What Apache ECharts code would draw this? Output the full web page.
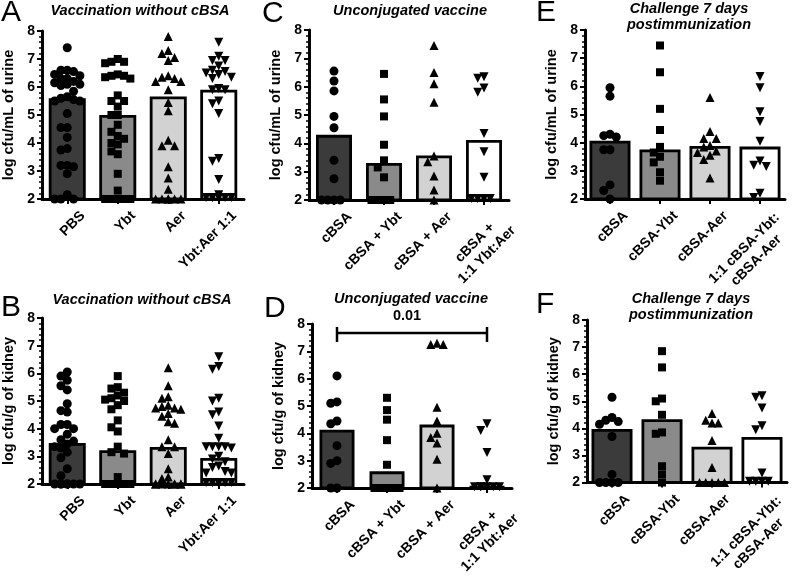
<!DOCTYPE html>
<html><head><meta charset="utf-8">
<script src="https://cdn.jsdelivr.net/npm/echarts@6/dist/echarts.min.js"></script>
<style>html,body{margin:0;padding:0;background:#fff}#c{width:805px;height:585px}</style>
</head><body><div id="c"></div>
<script>
const FONT = '"Liberation Sans", Arial, Helvetica, sans-serif';

// ---- categories ----
const catsAB = ['PBS', 'Ybt', 'Aer', 'Ybt:Aer 1:1'];
const catsCD = ['cBSA', 'cBSA + Ybt', 'cBSA + Aer', 'cBSA +\n1:1 Ybt:Aer'];
const catsEF = ['cBSA', 'cBSA-Ybt', 'cBSA-Aer', '1:1 cBSA-Ybt:\ncBSA-Aer'];

// ---- y axis ----
const yMin = 2, yMax = 8, yStep = 1;

// ---- Panel A (urine, vaccination without cBSA) ----
const barA = [5.6, 5.0, 5.66, 5.9];
const ptsA_1 = [7.4, 6.6, 6.6, 6.55, 6.45, 6.4, 6.3, 6.3, 6.2, 6.15, 6.1, 6.1, 6.05, 5.85, 5.65, 5.6, 5.55, 5.5, 5.5, 5.05, 4.55, 4.55, 4.2, 3.8, 3.75, 3.2, 3.2, 3.15, 2.9, 2.15, 2, 2, 2];
const ptsA_2 = [7.0, 6.9, 6.9, 6.85, 6.45, 6.4, 6.4, 6.35, 6.3, 5.7, 5.5, 5.5, 5.3, 5.0, 5.0, 4.65, 4.4, 4.25, 4.15, 4.0, 3.95, 3.7, 3.6, 2.9, 2.3, 2, 2, 2, 2, 2, 2];
const ptsA_3 = [7.8, 7.3, 7.2, 7.05, 6.95, 6.4, 6.35, 6.3, 6.2, 6.2, 5.9, 5.45, 5.15, 4.1, 3.9, 3.9, 3.15, 2.75, 2.35, 2, 2, 2, 2, 2, 2];
const ptsA_4 = [7.6, 7.1, 6.95, 6.95, 6.75, 6.6, 6.55, 6.5, 6.45, 6.35, 6.3, 5.95, 5.9, 5.9, 5.5, 5.4, 5.05, 3.45, 3.35, 2.7, 2.15, 2.05, 2.05, 2.05, 2.05, 2.05, 2.05];

// ---- Panel B (kidney, vaccination without cBSA) ----
const barB = [3.48, 3.22, 3.34, 2.94];
const ptsB_1 = [6.05, 5.9, 5.75, 5.55, 5.4, 4.9, 4.65, 4.6, 4.15, 4.15, 4.0, 4.0, 3.8, 3.6, 3.55, 3.45, 3.35, 3.3, 3.15, 2.95, 2.55, 2.3, 2, 2, 2, 2, 2, 2, 2];
const ptsB_2 = [5.9, 5.5, 5.45, 5.3, 5.2, 5.1, 5.05, 5.0, 4.85, 4.7, 4.3, 4.05, 3.9, 3.35, 3.15, 3.1, 2.25, 2, 2, 2, 2, 2, 2, 2];
const ptsB_3 = [6.2, 5.55, 5.15, 5.1, 4.85, 4.8, 4.75, 4.75, 4.7, 4.55, 4.45, 4.25, 4.2, 3.6, 3.35, 3.35, 3.1, 2.55, 2.25, 2.2, 2, 2, 2, 2, 2, 2, 2, 2];
const ptsB_4 = [6.6, 6.25, 6.15, 5.1, 5.0, 4.6, 4.5, 4.1, 3.65, 3.35, 3.35, 3.35, 3.35, 3.3, 3.0, 2.9, 2.8, 2.65, 2.6, 2.45, 2.4, 2.4, 2.05, 2.05, 2.05, 2.05, 2.05, 2.05, 2.05];

// ---- Panel C (urine, unconjugated vaccine) ----
const barC = [4.3, 3.31, 3.57, 4.12];
const ptsC_1 = [6.55, 6.2, 5.85, 4.95, 4.55, 3.4, 2.75, 2, 2, 2, 2];
const ptsC_2 = [6.45, 5.55, 4.95, 3.95, 3.4, 3.15, 2.8, 2, 2, 2, 2];
const ptsC_3 = [7.45, 6.5, 6.1, 5.45, 3.55, 3.35, 2.85, 2.35, 2];
const ptsC_4 = [6.35, 6.3, 5.95, 5.8, 4.35, 3.7, 2.8, 2.05, 2.05, 2.05, 2.05];

// ---- Panel D (kidney, unconjugated vaccine) ----
const barD = [4.13, 2.61, 4.32, 2.08];
const ptsD_1 = [6.1, 5.15, 5.1, 4.45, 4.35, 3.55, 3.0, 2.9, 2, 2];
const ptsD_2 = [5.3, 4.85, 4.5, 3.75, 2.85, 2, 2, 2, 2, 2];
const ptsD_3 = [7.3, 7.25, 7.25, 4.95, 4.45, 4.0, 3.85, 3.65, 3.05, 2.0];
const ptsD_4 = [4.35, 4.1, 3.3, 2.3, 2.05, 2.05, 2.05, 2.05, 2.05, 2.05];
const sigD = { from: 0, to: 3, y: 7.67, label: '0.01' };

// ---- Panel E (urine, challenge 7 days) ----
const barE = [4.07, 3.76, 3.88, 3.86];
const ptsE_1 = [5.95, 5.65, 4.3, 4.25, 4.2, 3.75, 3.75, 2.5, 2.3, 2.0];
const ptsE_2 = [7.45, 6.5, 5.2, 4.45, 3.85, 3.65, 3.5, 3.3, 2.95, 2.65];
const ptsE_3 = [5.6, 4.4, 4.15, 4.15, 3.9, 3.85, 3.7, 3.65, 3.55, 3.4, 2.75];
const ptsE_4 = [6.35, 5.95, 5.1, 4.75, 4.05, 3.35, 3.2, 3.15, 2.2, 2.05];

// ---- Panel F (kidney, challenge 7 days) ----
const barF = [3.98, 4.34, 3.32, 3.68];
const ptsF_1 = [5.15, 4.4, 4.3, 4.25, 4.15, 3.7, 2.3, 2, 2, 2, 2];
const ptsF_2 = [6.85, 6.25, 5.1, 5.0, 4.5, 3.85, 3.8, 2.6, 2.3, 2.0];
const ptsF_3 = [4.55, 4.3, 4.2, 4.2, 3.55, 2.55, 2, 2, 2, 2, 2];
const ptsF_4 = [5.2, 5.15, 4.75, 4.1, 3.95, 2.35, 2.05, 2.05, 2.05, 2.05];

// ---- styles ----
const fills = ['#3b3b3b', '#8a8a8a', '#d2d2d2', '#ffffff'];
const symbols = ['circle', 'rect', 'triangle', 'triangle'];
const symRot = [0, 0, 0, 180];
const symSize = [9, 8, 9, 9];
const urine = 'log cfu/mL of urine', kidney = 'log cfu/g of kidney';

const panels = [
  { letter: 'A', cats: catsAB, bars: barA, pts: [ptsA_1, ptsA_2, ptsA_3, ptsA_4], yName: urine,
    title: 'Vaccination without cBSA', tx: 140, ty: 11, lx: 1, ly: 14,
    grid: { left: 42, top: 31, width: 202, height: 168 }, bw: 37 },
  { letter: 'C', cats: catsCD, bars: barC, pts: [ptsC_1, ptsC_2, ptsC_3, ptsC_4], yName: urine,
    title: 'Unconjugated vaccine', tx: 410, ty: 11, lx: 262, ly: 15,
    grid: { left: 309, top: 30, width: 200, height: 170 }, bw: 36 },
  { letter: 'E', cats: catsEF, bars: barE, pts: [ptsE_1, ptsE_2, ptsE_3, ptsE_4], yName: urine,
    title: 'Challenge 7 days\npostimmunization', tx: 689, ty: 17, lx: 536, ly: 14,
    grid: { left: 585, top: 30, width: 200, height: 169 }, bw: 41 },
  { letter: 'B', cats: catsAB, bars: barB, pts: [ptsB_1, ptsB_2, ptsB_3, ptsB_4], yName: kidney,
    title: 'Vaccination without cBSA', tx: 142, ty: 300, lx: 1, ly: 309,
    grid: { left: 42, top: 318, width: 202, height: 166 }, bw: 37 },
  { letter: 'D', cats: catsCD, bars: barD, pts: [ptsD_1, ptsD_2, ptsD_3, ptsD_4], yName: kidney,
    title: 'Unconjugated vaccine', tx: 411, ty: 299, lx: 264, ly: 310, sig: sigD,
    grid: { left: 312, top: 324, width: 200, height: 164 }, bw: 35 },
  { letter: 'F', cats: catsEF, bars: barF, pts: [ptsF_1, ptsF_2, ptsF_3, ptsF_4], yName: kidney,
    title: 'Challenge 7 days\npostimmunization', tx: 691, ty: 307, lx: 536, ly: 306,
    grid: { left: 587, top: 320, width: 200, height: 167 }, bw: 41 }
];

// beeswarm-style horizontal spreading of points (computed, not typed)
function swarm(vals, step, minDy) {
  const placed = [];
  const cands = [0, -step, step, -2 * step, 2 * step, -0.5 * step, 0.5 * step, -1.5 * step, 1.5 * step];
  vals.forEach(v => {
    let best = 0, bestN = Infinity;
    for (const c of cands) {
      let n = 0;
      for (const p of placed) if (Math.abs(p[0] - c) < step * 0.98 && Math.abs(p[1] - v) < minDy) n++;
      if (n === 0) { best = c; bestN = 0; break; }
      if (n < bestN) { bestN = n; best = c; }
    }
    placed.push([best, v]);
  });
  return placed;
}

// rotated labels: blank lead lines push the text below-right of its tick, lines centred
function catLabel(v) {
  const lines = v.split('\n');
  const out = [];
  for (let i = 0; i <= lines.length; i++) out.push('{e| }');
  lines.forEach(s => out.push('{c|' + s + '}'));
  return out.join('\n');
}

const LBL = { fontFamily: FONT, fontWeight: 'bold', fontSize: 14, color: '#000', lineHeight: 17 };

const grids = [], xAxes = [], yAxes = [], series = [], graphics = [];
panels.forEach((p, i) => {
  grids.push(Object.assign({ containLabel: false }, p.grid));
  xAxes.push({
    type: 'category', gridIndex: i, data: p.cats, z: 3,
    axisLine: { onZero: false, lineStyle: { color: '#000', width: 3 } },
    axisTick: { show: true, alignWithLabel: true, length: 5, lineStyle: { color: '#000', width: 2 } },
    axisLabel: Object.assign({}, LBL, {
      interval: 0, rotate: 45, margin: -1, hideOverlap: false,
      formatter: catLabel,
      rich: { c: Object.assign({ align: 'center' }, LBL), e: Object.assign({}, LBL, { lineHeight: 22 }) }
    })
  });
  xAxes.push({ type: 'value', gridIndex: i, min: -0.5, max: 3.5, show: false, axisLine: { onZero: false } });
  yAxes.push({
    type: 'value', gridIndex: i, min: yMin, max: yMax, interval: yStep, z: 3,
    name: p.yName, nameLocation: 'middle', nameGap: 26,
    nameTextStyle: { color: '#000', fontFamily: FONT, fontWeight: 'bold', fontSize: 14.5 },
    axisLine: { show: true, onZero: false, lineStyle: { color: '#000', width: 3 } },
    axisTick: { show: true, length: 5, lineStyle: { color: '#000', width: 2 } },
    minorTick: { show: true, splitNumber: 5, length: 3, lineStyle: { color: '#000', width: 1.5 } },
    splitLine: { show: false },
    axisLabel: { color: '#000', fontFamily: FONT, fontWeight: 'bold', fontSize: 14, margin: 7 }
  });
  series.push({
    type: 'bar', xAxisIndex: 2 * i, yAxisIndex: i, barWidth: p.bw, z: 2,
    data: p.bars.map((v, j) => ({ value: v, itemStyle: { color: fills[j] } })),
    itemStyle: { borderColor: '#000', borderWidth: 2.8 },
    silent: true, animation: false
  });
  p.pts.forEach((vals, g) => {
    const sw = swarm(vals, 0.125, 0.28);
    series.push({
      type: 'scatter', xAxisIndex: 2 * i + 1, yAxisIndex: i, z: 5,
      symbol: symbols[g], symbolRotate: symRot[g], symbolSize: symSize[g],
      itemStyle: { color: '#000', opacity: 1 },
      data: sw.map(d => [g + d[0], d[1]]),
      clip: false, silent: true, animation: false
    });
  });
  if (p.sig) {
    series.push({
      type: 'custom', xAxisIndex: 2 * i, yAxisIndex: i, z: 6, clip: false, silent: true, animation: false,
      data: [[p.sig.from, p.sig.to, p.sig.y]],
      renderItem: (params, api) => {
        const a = api.coord([api.value(0), api.value(2)]);
        const b = api.coord([api.value(1), api.value(2)]);
        const ls = { stroke: '#000', lineWidth: 2.5 };
        return {
          type: 'group', children: [
            { type: 'line', shape: { x1: a[0], y1: a[1], x2: b[0], y2: b[1] }, style: ls },
            { type: 'line', shape: { x1: a[0], y1: a[1] - 6, x2: a[0], y2: a[1] + 9 }, style: ls },
            { type: 'line', shape: { x1: b[0], y1: b[1] - 6, x2: b[0], y2: b[1] + 9 }, style: ls },
            { type: 'text', style: { x: (a[0] + b[0]) / 2 - 5, y: a[1] - 17, text: p.sig.label, textAlign: 'center', textVerticalAlign: 'middle',
              font: 'bold 14.5px ' + FONT, fill: '#000' } }
          ]
        };
      }
    });
  }
  graphics.push({ type: 'text', left: p.lx, top: p.ly - 16, style: { text: p.letter, font: '30px ' + FONT, fill: '#000' } });
  graphics.push({ type: 'text', x: p.tx, y: p.ty, style: { text: p.title, font: 'italic bold 14.5px ' + FONT, fill: '#000',
    textAlign: 'center', textVerticalAlign: 'middle', lineHeight: 16 } });
});

const chart = echarts.init(document.getElementById('c'), null, { renderer: 'canvas' });
chart.setOption({
  animation: false, backgroundColor: '#fff',
  grid: grids, xAxis: xAxes, yAxis: yAxes, series: series, graphic: graphics
});
</script></body></html>
